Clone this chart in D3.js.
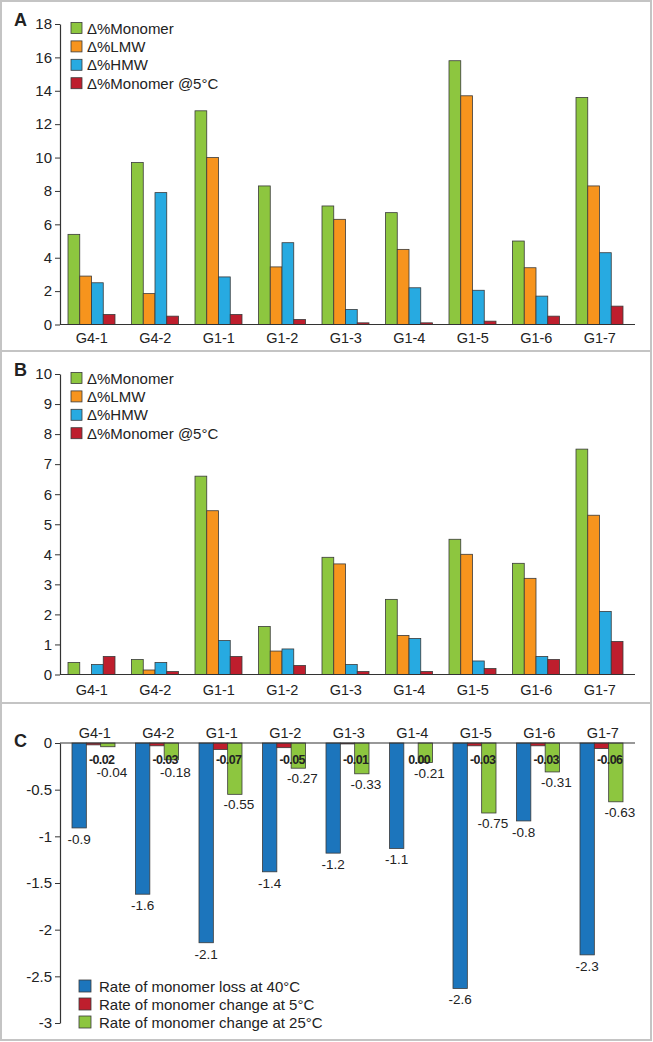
<!DOCTYPE html>
<html><head><meta charset="utf-8">
<script src="https://cdn.jsdelivr.net/npm/d3@7"></script>
<style>
html,body{margin:0;padding:0;background:#fff;}
svg text{font-family:"Liberation Sans",Arial,sans-serif;fill:#222;}
</style></head>
<body><svg id="chart" width="653" height="1042"></svg>
<script>
// ---------- data ----------
const categories = ["G4-1","G4-2","G1-1","G1-2","G1-3","G1-4","G1-5","G1-6","G1-7"];
const seriesAB = ["Δ%Monomer","Δ%LMW","Δ%HMW","Δ%Monomer @5°C"];
const colorsAB = ["#8dc63f","#f7941d","#27aae1","#be1e2d"];

const aMonomer  = [5.4, 9.7, 12.8, 8.3, 7.1, 6.7, 15.8, 5.0, 13.6];
const aLMW      = [2.9, 1.85, 10.0, 3.45, 6.3, 4.5, 13.7, 3.4, 8.3];
const aHMW      = [2.5, 7.9, 2.85, 4.9, 0.9, 2.2, 2.05, 1.7, 4.3];
const aMonomer5 = [0.6, 0.5, 0.6, 0.3, 0.1, 0.1, 0.2, 0.5, 1.1];
const ticksA = [0,2,4,6,8,10,12,14,16,18];

const bMonomer  = [0.4, 0.5, 6.6, 1.6, 3.9, 2.5, 4.5, 3.7, 7.5];
const bLMW      = [0, 0.15, 5.45, 0.78, 3.68, 1.3, 4.0, 3.2, 5.3];
const bHMW      = [0.33, 0.4, 1.13, 0.85, 0.33, 1.2, 0.45, 0.6, 2.1];
const bMonomer5 = [0.6, 0.1, 0.6, 0.3, 0.1, 0.1, 0.2, 0.5, 1.1];
const ticksB = [0,1,2,3,4,5,6,7,8,9,10];

const seriesC = ["Rate of monomer loss at 40°C","Rate of monomer change at 5°C","Rate of monomer change at 25°C"];
const colorsC = ["#1c75bc","#be1e2d","#8dc63f"];
const cLoss40   = [-0.91, -1.62, -2.14, -1.38, -1.18, -1.13, -2.63, -0.835, -2.27];
const cChange5  = [-0.02, -0.03, -0.07, -0.05, -0.01, 0.00, -0.03, -0.03, -0.06];
const cChange25 = [-0.04, -0.18, -0.55, -0.27, -0.33, -0.21, -0.75, -0.31, -0.63];
const ticksC = [0,-0.5,-1,-1.5,-2,-2.5,-3];

// ---------- layout ----------
const svg = d3.select("#chart");
svg.append("rect").attr("width",653).attr("height",1042).attr("fill","#fff");

const border = "#c4c4c4";
svg.append("rect").attr("x",1).attr("y",1).attr("width",650).attr("height",1039)
  .attr("fill","none").attr("stroke",border).attr("stroke-width",2);
[351,703].forEach(y=>svg.append("line").attr("x1",1).attr("x2",651).attr("y1",y).attr("y2",y)
  .attr("stroke",border).attr("stroke-width",2));

const axisX0 = 60, axisXEnd = 635;
const x = d3.scaleBand().domain(categories).range([60, 631.5]).padding(0);
const xInAB = d3.scaleBand().domain(seriesAB).range([8, 55]).padding(0);
const xInC = d3.scaleBand().domain(seriesC).range([12, 55]).padding(0);
const strokeCol = "#3a3a3a";

function styleAxis(g, size){
  g.selectAll("text").style("font-size", size+"px").attr("fill","#222");
  g.selectAll("line").attr("stroke","#333");
  g.select(".domain").attr("stroke","#333").attr("stroke-width",1.2);
}

function barPanel(letter, seriesVals, ticks, yTop, yZero, labelPad){
  const y = d3.scaleLinear().domain([0, d3.max(ticks)]).range([yZero, yTop]);
  const g = svg.append("g");
  // bars
  seriesAB.forEach((s, si) => {
    g.append("g").selectAll("rect")
      .data(categories.map((c,i)=>({c, v: seriesVals[si][i]})).filter(d=>d.v>0))
      .join("rect")
      .attr("x", d => x(d.c) + xInAB(s))
      .attr("width", xInAB.bandwidth())
      .attr("y", d => y(d.v))
      .attr("height", d => y(0) - y(d.v))
      .attr("fill", colorsAB[si])
      .attr("stroke", strokeCol).attr("stroke-width", 0.8);
  });
  // y axis
  const ya = g.append("g").attr("transform",`translate(${axisX0},0)`)
    .call(d3.axisLeft(y).tickValues(ticks).tickSize(5).tickSizeOuter(0).tickPadding(3).tickFormat(d=>String(d)));
  styleAxis(ya, 15);
  // x axis
  g.append("line").attr("x1",axisX0).attr("x2",axisXEnd).attr("y1",y(0)).attr("y2",y(0))
    .attr("stroke","#333").attr("stroke-width",1.2);
  const xa = g.append("g").attr("transform",`translate(0,${y(0)})`)
    .call(d3.axisBottom(x).tickSize(0).tickPadding(labelPad));
  xa.select(".domain").remove();
  styleAxis(xa, 14.5);
  // legend
  const lg = g.append("g");
  seriesAB.forEach((s, si) => {
    const cy = yTop + 4 + si*18.4;
    lg.append("rect").attr("x",71).attr("y",cy-5.5).attr("width",11).attr("height",11)
      .attr("fill",colorsAB[si]).attr("stroke",strokeCol).attr("stroke-width",0.8);
    lg.append("text").attr("x",87).attr("y",cy+5.5).style("font-size","15px").text(s);
  });
  // panel letter
  g.append("text").attr("x",14).attr("y",yTop+2).style("font-size","18px").style("font-weight","bold").text(letter);
}

barPanel("A", [aMonomer, aLMW, aHMW, aMonomer5], ticksA, 24, 324.5, 8.5);
barPanel("B", [bMonomer, bLMW, bHMW, bMonomer5], ticksB, 374, 674.5, 10);

// ---------- panel C ----------
(function(){
  const y = d3.scaleLinear().domain([d3.min(ticksC), 0]).range([1023, 743]);
  const g = svg.append("g");
  const cVals = [cLoss40, cChange5, cChange25];
  seriesC.forEach((s, si) => {
    g.append("g").selectAll("rect")
      .data(categories.map((c,i)=>({c, v: cVals[si][i]})).filter(d=>d.v<0))
      .join("rect")
      .attr("x", d => x(d.c) + xInC(s))
      .attr("width", xInC.bandwidth())
      .attr("y", y(0))
      .attr("height", d => y(d.v) - y(0))
      .attr("fill", colorsC[si])
      .attr("stroke", strokeCol).attr("stroke-width", 0.8);
  });
  // y axis
  const ya = g.append("g").attr("transform",`translate(${axisX0},0)`)
    .call(d3.axisLeft(y).tickValues(ticksC).tickSize(5).tickSizeOuter(0).tickPadding(3).tickFormat(d=>String(d)));
  styleAxis(ya, 15);
  g.append("line").attr("x1",axisX0).attr("x2",axisXEnd).attr("y1",y(0)).attr("y2",y(0))
    .attr("stroke","#333").attr("stroke-width",1.2);
  const xa = g.append("g").attr("transform",`translate(3,${y(0)})`)
    .call(d3.axisTop(x).tickSize(0).tickPadding(5));
  xa.select(".domain").remove();
  styleAxis(xa, 14.5);
  // value labels
  const fs = "13.5px";
  g.append("g").selectAll("text").data(categories.map((c,i)=>({c, v:cLoss40[i]})))
    .join("text")
    .attr("x", d => x(d.c) + xInC(seriesC[0]) + xInC.bandwidth()/2)
    .attr("y", d => y(d.v) + 16)
    .attr("text-anchor","middle").style("font-size",fs).text(d => d.v.toFixed(1));
  g.append("g").selectAll("text").data(categories.map((c,i)=>({c, v:cChange25[i]})))
    .join("text")
    .attr("x", d => x(d.c) + xInC(seriesC[2]) + xInC.bandwidth()/2 + 4)
    .attr("y", d => Math.max(y(d.v) + 15, y(0) + 34))
    .attr("text-anchor","middle").style("font-size",fs).text(d => d.v.toFixed(2));
  g.append("g").selectAll("text").data(categories.map((c,i)=>({c, v:cChange5[i]})))
    .join("text")
    .attr("x", d => x(d.c) + xInC(seriesC[2]) + 1)
    .attr("y", y(0) + 21)
    .attr("text-anchor","middle").style("font-size","12.5px").style("font-weight","bold")
    .style("letter-spacing","-0.6px").text(d => (d.v === 0 ? 0 : d.v).toFixed(2));
  // legend
  seriesC.forEach((s, si) => {
    const cy = 986 + si*18;
    g.append("rect").attr("x",79).attr("y",cy-6).attr("width",12).attr("height",12)
      .attr("fill",colorsC[si]).attr("stroke",strokeCol).attr("stroke-width",0.8);
    g.append("text").attr("x",99).attr("y",cy+5.5).style("font-size","15px").text(s);
  });
  g.append("text").attr("x",14).attr("y",y(0)+4).style("font-size","18px").style("font-weight","bold").text("C");
})();
</script></body></html>
